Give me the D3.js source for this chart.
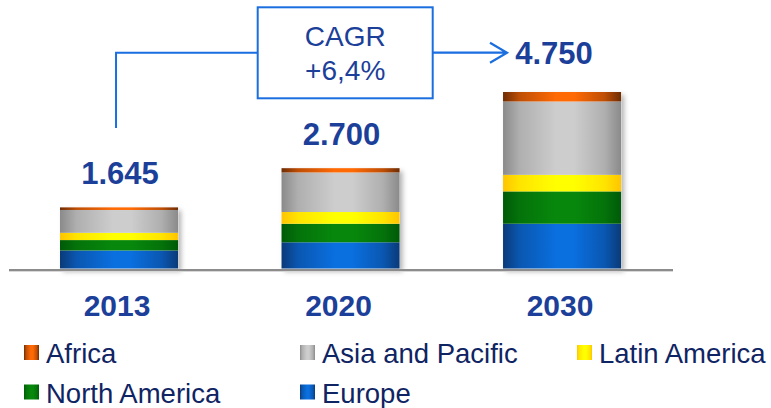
<!DOCTYPE html>
<html>
<head>
<meta charset="utf-8">
<script src="https://cdn.jsdelivr.net/npm/d3@7"></script>
<style>
  html, body { margin: 0; padding: 0; background: #fff; }
  svg { display: block; }
</style>
</head>
<body>
<svg id="chart" width="771" height="408"></svg>
<script>
// Market volume by region, stacked per year
const years = ["2013", "2020", "2030"];
const totals = [1645, 2700, 4750];
const totalLabels = ["1.645", "2.700", "4.750"];
const europe = [485, 705, 1205];
const northAmerica = [280, 500, 870];
const latinAmerica = [195, 315, 445];
const asiaPacific = [615, 1065, 1975];
const africa = [70, 115, 255];
const cagrLines = ["CAGR", "+6,4%"];

// stacking order, bottom to top
const seriesNames = ["Europe", "North America", "Latin America", "Asia and Pacific", "Africa"];
const seriesValues = [europe, northAmerica, latinAmerica, asiaPacific, africa];
// edge / centre tones for the cylindrical shading
const seriesTones = {
  "Europe": ["#0a3a78", "#0a6fdf"],
  "North America": ["#005a08", "#07880c"],
  "Latin America": ["#ffc400", "#ffff00"],
  "Asia and Pacific": ["#8a8a8a", "#cdcdcd"],
  "Africa": ["#6e2c04", "#ff6a05"]
};
const legendRows = [["Africa", "Asia and Pacific", "Latin America"], ["North America", "Europe"]];

const svg = d3.select("#chart");
const defs = svg.append("defs");

const keyOf = n => n.replace(/\s+/g, "-").toLowerCase();
seriesNames.forEach(name => {
  const [dark, light] = seriesTones[name];
  const mid = d3.interpolateRgb(dark, light)(0.55);
  const g = defs.append("linearGradient").attr("id", "g-" + keyOf(name))
    .attr("x1", 0).attr("x2", 1).attr("y1", 0).attr("y2", 0);
  [[0, dark], [0.14, mid], [0.45, light], [0.6, light], [0.86, mid], [1, dark]].forEach(([o, c]) =>
    g.append("stop").attr("offset", o).attr("stop-color", c));
});

const shadow = defs.append("filter").attr("id", "shadow")
  .attr("x", "-10%").attr("y", "-10%").attr("width", "130%").attr("height", "130%");
shadow.append("feDropShadow").attr("dx", 3).attr("dy", 3).attr("stdDeviation", 2.5)
  .attr("flood-color", "#000").attr("flood-opacity", 0.3);

const x = d3.scaleBand().domain(years).range([15.7, 665.4]).paddingInner(0.467).paddingOuter(0.2);
const y = d3.scaleLinear().domain([0, d3.max(totals)]).range([268.5, 92]);

const rows = years.map((yr, i) => {
  const r = { year: yr };
  seriesNames.forEach((n, k) => r[n] = seriesValues[k][i]);
  return r;
});
const stacked = d3.stack().keys(seriesNames)(rows);

// bars
const barG = svg.append("g");
barG.selectAll("rect.shadow").data(years).join("rect")
  .attr("x", d => x(d)).attr("width", x.bandwidth())
  .attr("y", (d, i) => y(totals[i])).attr("height", (d, i) => y(0) - y(totals[i]))
  .attr("fill", "#fff").attr("filter", "url(#shadow)");
stacked.forEach(layer => {
  barG.append("g").selectAll("rect").data(layer).join("rect")
    .attr("x", d => x(d.data.year))
    .attr("width", x.bandwidth())
    .attr("y", d => y(d[1]))
    .attr("height", d => y(d[0]) - y(d[1]))
    .attr("fill", `url(#g-${keyOf(layer.key)})`);
});

// baseline
svg.append("line").attr("x1", 9).attr("x2", 673).attr("y1", y(0) + 1.5).attr("y2", y(0) + 1.5)
  .attr("stroke", "#8c8c8c").attr("stroke-width", 2);
svg.append("line").attr("x1", 9).attr("x2", 673).attr("y1", y(0) + 3).attr("y2", y(0) + 3)
  .attr("stroke", "#d8d8d8").attr("stroke-width", 1);

// year labels
svg.append("g").selectAll("text").data(years).join("text")
  .attr("x", d => x(d) + x.bandwidth() / 2 - 2)
  .attr("y", 316)
  .attr("text-anchor", "middle")
  .attr("font-family", "Liberation Sans, Arial, sans-serif")
  .attr("font-weight", "bold").attr("font-size", 30)
  .attr("fill", "#1c3f9a")
  .text(d => d);

// CAGR connector
const blue = "#1a6ee0";
const startX = x(years[0]) + x.bandwidth() / 2 - 3;
const lineY = 52.7;
const box = { x0: 257.7, x1: 432.7, y0: 7.3, y1: 98.3 };
const tipX = 507;
svg.append("path")
  .attr("d", `M${startX},128 V${lineY} H${box.x0}`)
  .attr("fill", "none").attr("stroke", blue).attr("stroke-width", 2);
svg.append("rect").attr("x", box.x0).attr("y", box.y0)
  .attr("width", box.x1 - box.x0).attr("height", box.y1 - box.y0)
  .attr("fill", "#fff").attr("stroke", blue).attr("stroke-width", 2);
svg.append("path")
  .attr("d", `M${box.x1},${lineY} H${tipX} M${tipX - 17},${lineY - 10} L${tipX},${lineY} L${tipX - 17},${lineY + 10}`)
  .attr("fill", "none").attr("stroke", blue).attr("stroke-width", 2.2);
svg.append("g").selectAll("text").data(cagrLines).join("text")
  .attr("x", (box.x0 + box.x1) / 2)
  .attr("y", (d, i) => 46 + i * 34)
  .attr("text-anchor", "middle")
  .attr("font-family", "Liberation Sans, Arial, sans-serif")
  .attr("font-size", 28)
  .attr("fill", "#1c3f9a")
  .text(d => d);

// totals above bars; the last one sits at the arrow head
svg.append("g").selectAll("text").data(totalLabels).join("text")
  .attr("x", (d, i) => i === totals.length - 1 ? tipX + 47 : x(years[i]) + x.bandwidth() / 2 + 1)
  .attr("y", (d, i) => i === totals.length - 1 ? lineY + 11 : y(totals[i]) - 23)
  .attr("text-anchor", "middle")
  .attr("font-family", "Liberation Sans, Arial, sans-serif")
  .attr("font-weight", "bold").attr("font-size", 31)
  .attr("fill", "#1c3f9a")
  .text(d => d);

// legend
const colX = [24, 300, 577];
const rowY = [363, 402.5];
legendRows.forEach((row, ri) => {
  row.forEach((name, ci) => {
    const g = svg.append("g").attr("transform", `translate(${colX[ci]},${rowY[ri]})`);
    g.append("rect").attr("x", 0).attr("y", -18).attr("width", 15).attr("height", 15)
      .attr("fill", `url(#g-${keyOf(name)})`);
    g.append("text").attr("x", 22).attr("y", 0)
      .attr("font-family", "Liberation Sans, Arial, sans-serif")
      .attr("font-size", 27.5)
      .attr("fill", "#0f2463")
      .text(name);
  });
});
</script>
</body>
</html>
